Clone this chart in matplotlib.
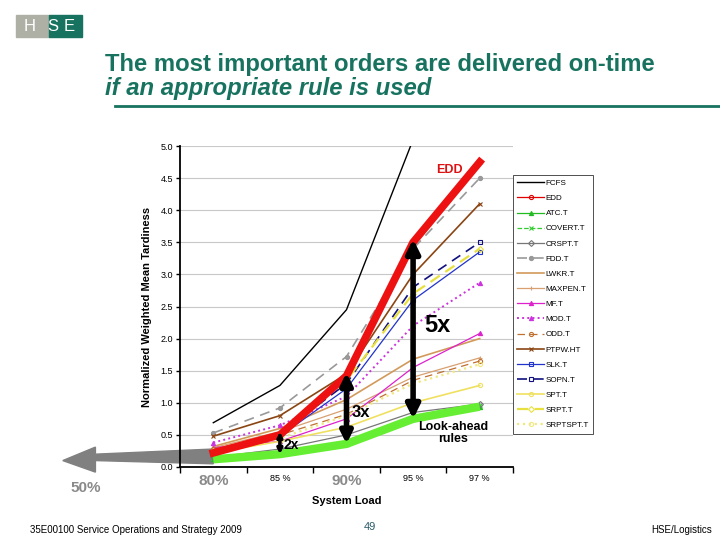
import matplotlib
matplotlib.use("Agg")
import matplotlib.pyplot as plt
from matplotlib.patches import Rectangle, Polygon
from matplotlib.lines import Line2D

plt.rcParams['font.family'] = ['Liberation Sans', 'DejaVu Sans']

# system load categories
loads = ["80%", "85 %", "90%", "95 %", "97 %"]

# normalized weighted mean tardiness per rule
fcfs = [0.69, 1.27, 2.45, 5.10, 7.00]
edd = [0.22, 0.50, 1.42, 3.50, 4.75]
atc = [0.12, 0.20, 0.36, 0.75, 0.94]
covert = [0.14, 0.22, 0.38, 0.77, 0.96]
crspt = [0.15, 0.28, 0.50, 0.85, 0.98]
fdd = [0.53, 0.92, 1.72, 3.40, 4.50]
lwkr = [0.32, 0.60, 1.05, 1.68, 2.00]
maxpen = [0.30, 0.55, 0.90, 1.40, 1.70]
mf = [0.30, 0.40, 0.75, 1.55, 2.08]
mod = [0.38, 0.65, 1.10, 2.20, 2.87]
odd = [0.28, 0.50, 0.82, 1.35, 1.65]
ptpw = [0.48, 0.80, 1.45, 3.00, 4.10]
slk = [0.20, 0.48, 1.22, 2.60, 3.35]
sopn = [0.22, 0.52, 1.30, 2.80, 3.50]
spt = [0.22, 0.40, 0.62, 1.00, 1.27]
srpt = [0.25, 0.52, 1.35, 2.70, 3.40]
srptspt = [0.25, 0.45, 0.80, 1.30, 1.60]

teal = "#17735f"

fig = plt.figure(figsize=(7.2, 5.4), dpi=100)
fig.patch.set_facecolor("white")

# logo
fig.patches.append(Rectangle((16 / 720, 1 - 37 / 540), 33 / 720, 22 / 540,
                             transform=fig.transFigure, color="#aeafa5"))
fig.patches.append(Rectangle((49 / 720, 1 - 37 / 540), 33 / 720, 22 / 540,
                             transform=fig.transFigure, color=teal))
for letter, px in [("H", 30), ("S", 53), ("E", 69)]:
    fig.text(px / 720, 1 - 26.5 / 540, letter, color="white", fontsize=12,
             ha="center", va="center")

# title
fig.text(105 / 720, 1 - 64 / 540, "The most important orders are delivered on-time",
         color=teal, fontsize=17.2, fontweight="bold", va="center")
fig.text(105 / 720, 1 - 89 / 540, "if an appropriate rule is used",
         color=teal, fontsize=17.2, fontweight="bold", style="italic", va="center")
fig.add_artist(Line2D([115 / 720, 1.0], [1 - 106 / 540, 1 - 106 / 540],
                      transform=fig.transFigure, color=teal, lw=2))

ax = fig.add_axes([180 / 720, 1 - 467 / 540, 333 / 720, 321 / 540])
x = list(range(len(loads)))

series = [
    ("FCFS", fcfs, dict(color="black", lw=1.0)),
    ("EDD", edd, dict(color="#e00000", marker="o", mfc="none")),
    ("ATC.T", atc, dict(color="#22bb22", marker="^")),
    ("COVERT.T", covert, dict(color="#33cc33", ls="--", marker="x")),
    ("CRSPT.T", crspt, dict(color="#777777", marker="D", mfc="none")),
    ("FDD.T", fdd, dict(color="#999999", ls=(0, (6, 4)), lw=1.2, marker="o")),
    ("LWKR.T", lwkr, dict(color="#d29a5a", lw=1.2)),
    ("MAXPEN.T", maxpen, dict(color="#d8a070", marker="+")),
    ("MF.T", mf, dict(color="#dd22cc", marker="^")),
    ("MOD.T", mod, dict(color="#cc33dd", ls=":", lw=1.4, marker="^")),
    ("ODD.T", odd, dict(color="#c07030", ls=(0, (6, 4)), marker="o", mfc="none")),
    ("PTPW.HT", ptpw, dict(color="#8b4513", lw=1.2, marker="x")),
    ("SLK.T", slk, dict(color="#2233cc", marker="s", mfc="none")),
    ("SOPN.T", sopn, dict(color="#101080", ls=(0, (6, 4)), lw=1.2, marker="s", mfc="none")),
    ("SPT.T", spt, dict(color="#f0e060", lw=1.2, marker="o", mfc="none")),
    ("SRPT.T", srpt, dict(color="#e8e040", ls=(0, (5, 3)), lw=1.6, marker="D", mfc="none")),
    ("SRPTSPT.T", srptspt, dict(color="#f0e880", ls=":", lw=1.6, marker="o", mfc="none")),
]
for name, vals, style in series:
    style.setdefault("lw", 0.9)
    ax.plot(x, vals, label=name, ms=3, mew=0.8, zorder=3, **style)

# highlighted rules
ax.plot(x, atc, color="#66ee33", lw=6, solid_capstyle="butt", zorder=4)
ax.plot(x, edd, color="#ee1111", lw=5.5, solid_joinstyle="round", zorder=5)

ax.set_xlim(-0.5, 4.5)
ax.set_ylim(0, 5)
ax.set_yticks([i * 0.5 for i in range(11)])
ax.set_yticklabels([f"{i * 0.5:.1f}" for i in range(11)], fontsize=6.5)
ax.yaxis.grid(True, color="#c8c8c8", lw=0.8)
ax.set_axisbelow(True)
for s in ("top", "right"):
    ax.spines[s].set_visible(False)
ax.spines["left"].set_linewidth(1.3)
ax.spines["bottom"].set_linewidth(1.3)
ax.tick_params(axis="y", length=3, width=1, pad=2)

ax.set_xticks(x)
ax.set_xticklabels(loads)
ax.set_xticks([i - 0.5 for i in range(6)], minor=True)
ax.tick_params(axis="x", which="major", length=0, pad=5)
ax.tick_params(axis="x", which="minor", length=4, width=1)
for i, lab in enumerate(ax.get_xticklabels()):
    if i in (0, 2):
        lab.set_fontsize(11)
        lab.set_color("#8a8a8a")
        lab.set_fontweight("bold")
    else:
        lab.set_fontsize(6.5)

ax.set_xlabel("System Load", fontsize=8, fontweight="bold", labelpad=6)
ax.set_ylabel("Normalized Weighted Mean Tardiness", fontsize=8, fontweight="bold", labelpad=6)

# grey arrow pointing back to 50 % load
arrow = Polygon([(0, 0.28), (-1.77, 0.20), (-1.77, 0.31), (-2.26, 0.10),
                 (-1.77, -0.08), (-1.77, 0.10), (0, 0.05)],
                closed=True, color="#808080", clip_on=False, zorder=2)
ax.add_patch(arrow)
ax.text(-1.92, -0.045, "50%", transform=ax.get_xaxis_transform(), fontsize=11,
        color="#8a8a8a", fontweight="bold", ha="center", va="top")

# black double arrows showing the gap between EDD and look-ahead rules
for xi, label, fs, dx, dy, ms, lw in [(1, "2x", 10, 0.05, 0.35, 7, 2.5),
                                      (2, "3x", 12, 0.07, 0.85, 17, 4),
                                      (3, "5x", 17, 0.17, 2.2, 20, 4)]:
    ax.annotate("", xy=(xi, atc[xi]), xytext=(xi, edd[xi] + 0.05),
                arrowprops=dict(arrowstyle="<|-|>", color="black", lw=lw,
                                mutation_scale=ms, shrinkA=0, shrinkB=0),
                zorder=6)
    ax.text(xi + dx, dy, label, fontsize=fs, fontweight="bold", va="center", zorder=7)

ax.text(3.55, 4.62, "EDD", color="#dd1111", fontsize=9, fontweight="bold",
        ha="center", va="center")
ax.text(3.6, 0.53, "Look-ahead\nrules", fontsize=9, fontweight="bold",
        ha="center", va="center", linespacing=1.0, zorder=7)

leg = fig.legend(loc="upper left", bbox_to_anchor=(513 / 720, 1 - 175 / 540),
                 borderaxespad=0, fontsize=5.8, labelspacing=0.93, handlelength=3.3,
                 handletextpad=0.2, borderpad=0.55, fancybox=False,
                 edgecolor="#333333", framealpha=1)
leg.get_frame().set_linewidth(0.6)

# footer
fig.text(30 / 720, 1 - 530 / 540, "35E00100 Service Operations and Strategy 2009",
         fontsize=7, va="center")
fig.text(370 / 720, 1 - 527 / 540, "49", fontsize=8, color="#2a5a6a",
         ha="center", va="center")
fig.text(712 / 720, 1 - 530 / 540, "HSE/Logistics", fontsize=7, ha="right", va="center")

fig.savefig("out.png", dpi=100)
